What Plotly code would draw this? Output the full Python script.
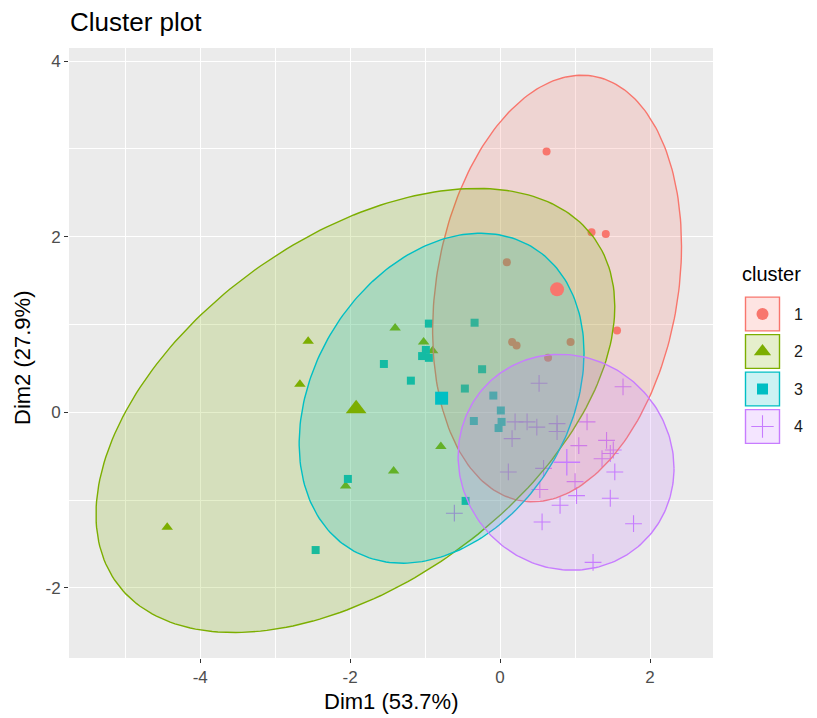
import numpy as np
import plotly.graph_objects as go

# ---- data -------------------------------------------------------------
clusters = ["1", "2", "3", "4"]
colors = ["#F8766D", "#7CAE00", "#00BFC4", "#C77CFF"]
symbols = ["circle", "triangle-up", "square", "cross-thin"]

c1_x = [0.62, 1.22, 1.41, 0.09, 1.56, 0.16, 0.22, 0.94, 0.64]
c1_y = [2.97, 2.05, 2.03, 1.71, 0.93, 0.80, 0.76, 0.80, 0.62]

c2_x = [-4.44, -2.56, -2.67, -1.40, -1.02, -0.90, -0.79, -1.42, -2.06]
c2_y = [-1.31, 0.81, 0.32, 0.96, 0.80, 0.70, -0.39, -0.67, -0.84]

c3_x = [-0.95, -0.34, -0.99, -0.95, -1.04, -1.55, -1.19, -0.24, -0.47,
        -0.09, 0.01, -0.35, 0.02, -0.02, -0.46, -2.03, -2.46]
c3_y = [1.01, 1.02, 0.71, 0.62, 0.64, 0.55, 0.36, 0.49, 0.27,
        0.19, 0.02, -0.10, -0.11, -0.18, -1.01, -0.76, -1.57]

c4_x = [0.52, 1.64, 0.20, 0.36, 0.49, 0.76, 0.76, 1.16, 0.16, 1.05, 1.42, 1.51, 1.36,
        1.47, 1.53, 0.11, 0.58, 1.00, 0.53, 1.02, 1.47, 0.80, 0.56, 1.78, 1.24, -0.61]
c4_y = [0.33, 0.29, -0.11, -0.11, -0.17, -0.13, -0.22, -0.11, -0.30, -0.38, -0.32, -0.43, -0.53,
        -0.47, -0.68, -0.68, -0.64, -0.79, -0.88, -0.95, -0.98, -1.06, -1.25, -1.27, -1.71, -1.15]

cent_x = [0.76, -1.92, -0.78, 0.89]
cent_y = [1.40, 0.04, 0.16, -0.57]

# normal-confidence ellipses: centre, spread along x / y, covariance term
ell_cx = [0.76, -1.93, -0.78, 0.88]
ell_cy = [1.41, 0.02, 0.16, -0.57]
ell_sx = [1.66, 3.46, 1.90, 1.44]
ell_sy = [2.43, 2.53, 1.88, 1.23]
ell_sxy = [0.80, 4.10, 0.98, -0.10]

x_ticks = [-4, -2, 0, 2]
y_ticks = [-2, 0, 2, 4]

points_x = [c1_x, c2_x, c3_x, c4_x]
points_y = [c1_y, c2_y, c3_y, c4_y]

# ---- helpers ----------------------------------------------------------
def rgba(hex_col, a):
    h = hex_col.lstrip("#")
    r, g, b = int(h[0:2], 16), int(h[2:4], 16), int(h[4:6], 16)
    return f"rgba({r},{g},{b},{a})"


def ellipse_path(cx, cy, sx, sy, sxy, n=240):
    cov = np.array([[sx ** 2, sxy], [sxy, sy ** 2]])
    L = np.linalg.cholesky(cov)
    t = np.linspace(0, 2 * np.pi, n)
    pts = L @ np.vstack([np.cos(t), np.sin(t)])
    return cx + pts[0], cy + pts[1]


FONT = "Liberation Sans, Arial, Helvetica, sans-serif"
small_size = [8, 10, 8, 12]
big_size = [14, 18, 13, 19]

fig = go.Figure()

# observations
for k in range(4):
    line = dict(width=1.1, color=colors[k]) if symbols[k] == "cross-thin" else dict(width=0)
    fig.add_trace(go.Scatter(
        x=points_x[k], y=points_y[k], mode="markers",
        marker=dict(symbol=symbols[k], size=small_size[k], color=colors[k], line=line),
        showlegend=False, hoverinfo="skip"))

# ellipses
for k in range(4):
    ex, ey = ellipse_path(ell_cx[k], ell_cy[k], ell_sx[k], ell_sy[k], ell_sxy[k])
    fig.add_trace(go.Scatter(
        x=ex, y=ey, mode="lines", fill="toself",
        fillcolor=rgba(colors[k], 0.2), line=dict(color=colors[k], width=1.4),
        showlegend=False, hoverinfo="skip"))

# cluster centres
for k in range(4):
    line = dict(width=1.3, color=colors[k]) if symbols[k] == "cross-thin" else dict(width=0)
    fig.add_trace(go.Scatter(
        x=[cent_x[k]], y=[cent_y[k]], mode="markers",
        marker=dict(symbol=symbols[k], size=big_size[k], color=colors[k], line=line),
        showlegend=False, hoverinfo="skip"))

# legend keys drawn on a side axis (1 unit = 1 px horizontally, 1 unit = one key vertically)
key_idx = [1, 2, 3, 4]
for k in range(4):
    fig.add_shape(type="rect", xref="x2", yref="y2",
                  x0=-17, x1=17, y0=key_idx[k] - 0.45, y1=key_idx[k] + 0.45,
                  fillcolor=rgba(colors[k], 0.2), line=dict(color=colors[k], width=1.4))
    line = dict(width=1.1, color=colors[k]) if symbols[k] == "cross-thin" else dict(width=0)
    fig.add_trace(go.Scatter(
        x=[0], y=[key_idx[k]], xaxis="x2", yaxis="y2", mode="markers",
        marker=dict(symbol=symbols[k], size=[12, 15, 11, 16][k], color=colors[k], line=line),
        showlegend=False, hoverinfo="skip"))
    fig.add_annotation(xref="x2", yref="y2", x=29, y=key_idx[k], text=clusters[k],
                       showarrow=False, xanchor="left", yanchor="middle",
                       font=dict(family=FONT, size=16, color="#1A1A1A"))

fig.add_annotation(xref="paper", yref="paper", x=(740 - 69) / 748, y=(658 - 274) / 610,
                   text="cluster", showarrow=False, xanchor="left", yanchor="middle",
                   font=dict(family=FONT, size=20, color="#000000"))

# panel background
fig.add_shape(type="rect", xref="x domain", yref="y domain", x0=0, x1=1, y0=0, y1=1,
              fillcolor="#EBEBEB", line=dict(width=0), layer="below")

# titles
fig.add_annotation(xref="paper", yref="paper", x=-0.002, y=(658 - 22) / 610,
                   text="Cluster plot", showarrow=False, xanchor="left", yanchor="middle",
                   font=dict(family=FONT, size=26, color="#000000"))
fig.add_annotation(xref="paper", yref="paper", x=0.4305, y=(658 - 701) / 610,
                   text="Dim1 (53.7%)", showarrow=False, xanchor="center", yanchor="middle",
                   font=dict(family=FONT, size=22, color="#000000"))
fig.add_annotation(xref="paper", yref="paper", x=(22 - 69) / 748, y=(658 - 358) / 610,
                   text="Dim2 (27.9%)", showarrow=False, textangle=-90,
                   xanchor="center", yanchor="middle",
                   font=dict(family=FONT, size=22, color="#000000"))

axis_common = dict(
    showgrid=True, gridcolor="#FFFFFF", gridwidth=1.3, zeroline=False,
    ticks="outside", ticklen=4, tickwidth=1.1, tickcolor="#333333",
    tickfont=dict(family=FONT, size=17, color="#4D4D4D"),
    showline=False, fixedrange=True,
    minor=dict(showgrid=True, gridcolor="#FFFFFF", gridwidth=0.6, dtick=1, tick0=0, ticks=""),
)

fig.update_layout(
    width=817, height=718,
    margin=dict(l=69, r=0, t=48, b=60),
    paper_bgcolor="#FFFFFF", plot_bgcolor="#FFFFFF",
    showlegend=False,
    xaxis=dict(axis_common, domain=[0, 644 / 748], range=[-5.75, 2.84],
               tickmode="array", tickvals=x_ticks, ticktext=[str(v) for v in x_ticks]),
    yaxis=dict(axis_common, domain=[0, 1], range=[-2.80, 4.15],
               tickmode="array", tickvals=y_ticks, ticktext=[str(v) for v in y_ticks]),
    xaxis2=dict(domain=[(735 - 69) / 748, 1], range=[735 - 762.5, 817 - 762.5],
                visible=False, fixedrange=True, anchor="y2"),
    yaxis2=dict(domain=[0, 1], range=[(658 - 314) / 37.5 + 1, (48 - 314) / 37.5 + 1],
                visible=False, fixedrange=True, anchor="x2"),
)

fig.write_html("out.html")
